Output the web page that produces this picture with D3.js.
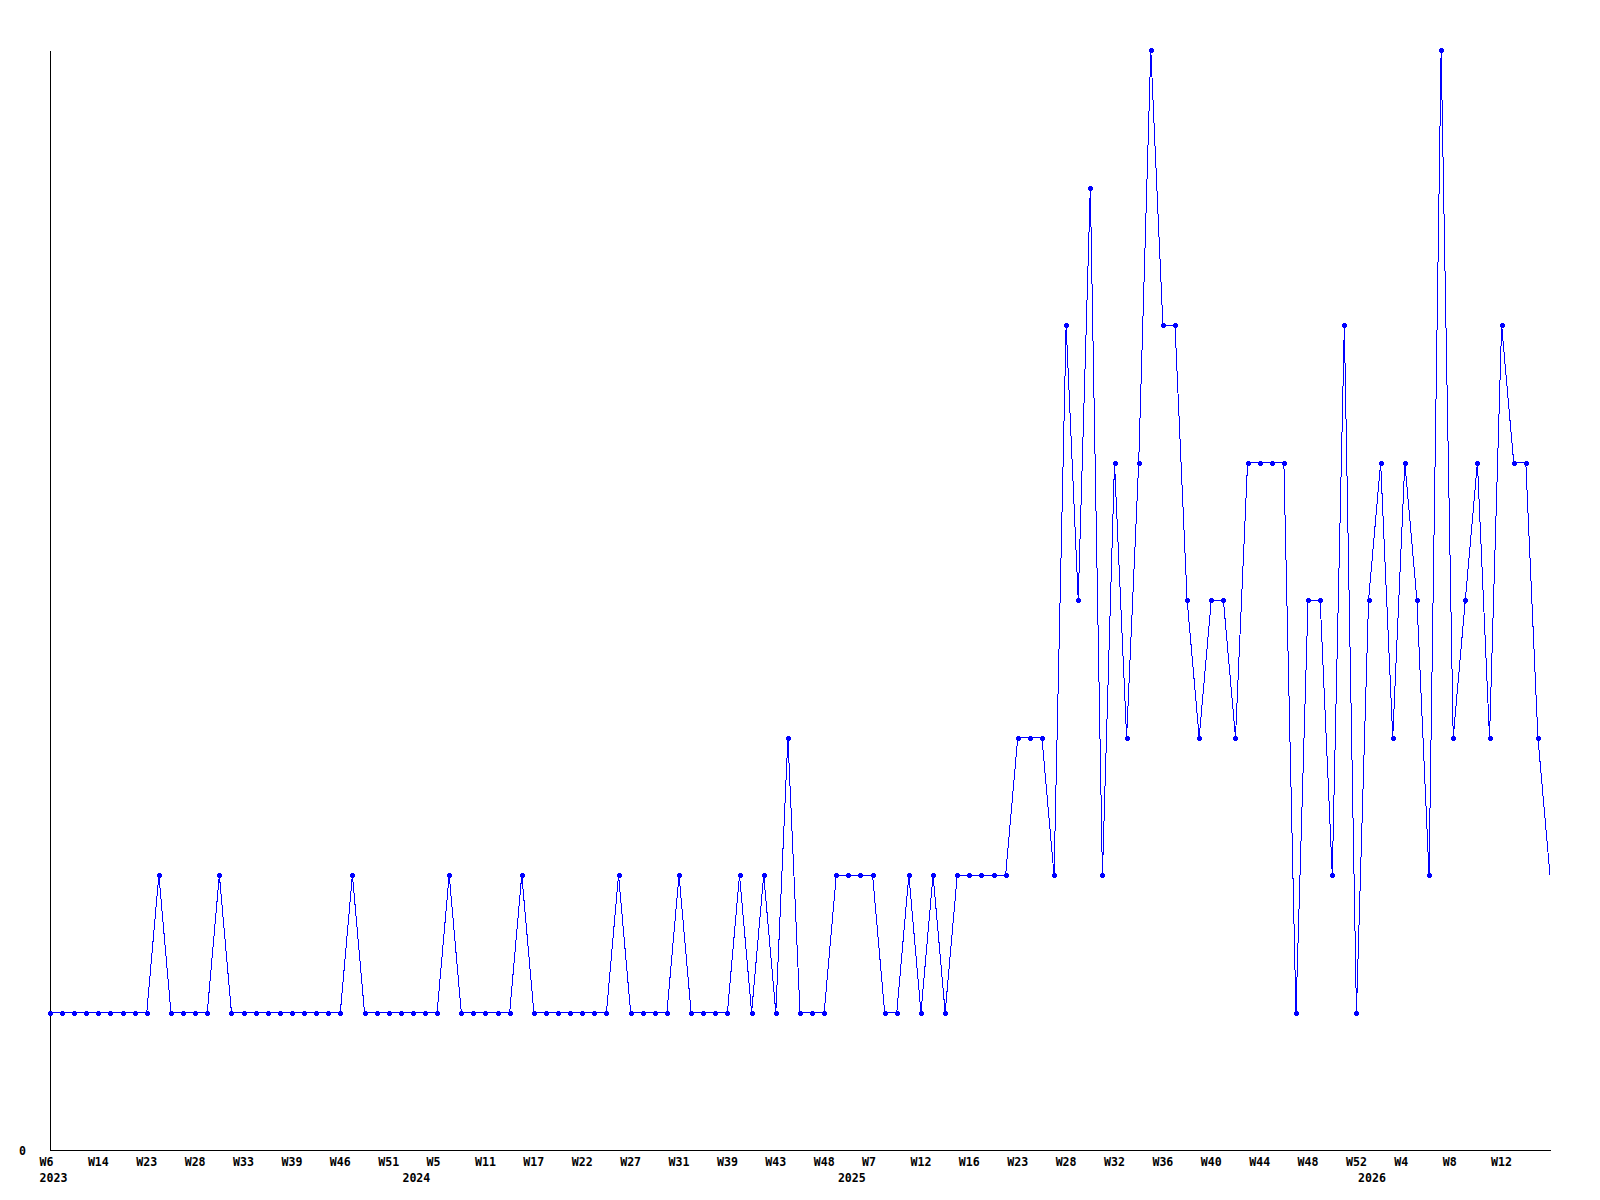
<!DOCTYPE html>
<html>
<head>
<meta charset="utf-8">
<script src="https://cdn.jsdelivr.net/npm/d3@7"></script>
<style>
  html, body { margin: 0; padding: 0; background: #fff; }
  svg text { font-family: "DejaVu Sans Mono", monospace; font-weight: bold; font-size: 11.6px; fill: #000; }
</style>
</head>
<body>
<svg width="1600" height="1200"></svg>
<script>
"use strict";

// weekly counts, one point per week that had data
var values = [
  1, 1, 1, 1, 1, 1, 1, 1, 1, 2,
  1, 1, 1, 1, 2, 1, 1, 1, 1, 1,
  1, 1, 1, 1, 1, 2, 1, 1, 1, 1,
  1, 1, 1, 2, 1, 1, 1, 1, 1, 2,
  1, 1, 1, 1, 1, 1, 1, 2, 1, 1,
  1, 1, 2, 1, 1, 1, 1, 2, 1, 2,
  1, 3, 1, 1, 1, 2, 2, 2, 2, 1,
  1, 2, 1, 2, 1, 2, 2, 2, 2, 2,
  3, 3, 3, 2, 6, 4, 7, 2, 5, 3,
  5, 8, 6, 6, 4, 3, 4, 4, 3, 5,
  5, 5, 5, 1, 4, 4, 2, 6, 1, 4,
  5, 3, 5, 4, 2, 8, 3, 4, 5, 3,
  6, 5, 5, 3, 2
];

// week label shown under every 4th point
var weekLabels = [
  "W6", "W14", "W23", "W28", "W33", "W39", "W46", "W51", "W5", "W11",
  "W17", "W22", "W27", "W31", "W39", "W43", "W48", "W7", "W12", "W16",
  "W23", "W28", "W32", "W36", "W40", "W44", "W48", "W52", "W4", "W8", "W12"
];
var labelEvery = 4;

var years = ["2023", "2024", "2025", "2026"];
var yearStart = [0, 30, 66, 109];   // index of first point of each year

var yTicks = [0];

var svg = d3.select("svg"),
    plotLeft = 50, plotRight = 1550, plotTop = 50, plotBottom = 1150;

var x = d3.scaleLinear().domain([0, values.length - 1]).range([plotLeft, plotRight]);
var y = d3.scaleLinear().domain([0, d3.max(values)]).range([plotBottom, plotTop]);

// y axis
var yAxis = svg.append("g")
    .attr("transform", "translate(" + plotLeft + ",0)")
    .call(d3.axisLeft(y).tickValues(yTicks).tickSize(0).tickPadding(24).tickFormat(d3.format("d")));
yAxis.select(".domain").attr("stroke", "#000").attr("shape-rendering", "crispEdges");
yAxis.selectAll("text").attr("font-family", null).attr("font-size", null).attr("dy", "0.36em");

// week labels
var weekIdx = weekLabels.map(function(d, i) { return i * labelEvery; });
var xAxis = svg.append("g")
    .attr("transform", "translate(0," + plotBottom + ")")
    .call(d3.axisBottom(x).tickValues(weekIdx).tickSize(0)
      .tickFormat(function(d) { return weekLabels[d / labelEvery]; }));
xAxis.select(".domain").attr("stroke", "#000").attr("shape-rendering", "crispEdges");
xAxis.selectAll("text")
    .attr("font-family", null).attr("font-size", null)
    .attr("text-anchor", "start").attr("x", -11).attr("y", 16).attr("dy", null);

// year labels
var yearAxis = svg.append("g")
    .attr("transform", "translate(0," + plotBottom + ")")
    .call(d3.axisBottom(x).tickValues(yearStart).tickSize(0)
      .tickFormat(function(d) { return years[yearStart.indexOf(d)]; }));
yearAxis.select(".domain").remove();
yearAxis.selectAll("text")
    .attr("font-family", null).attr("font-size", null)
    .attr("text-anchor", "start").attr("x", -11).attr("y", 32).attr("dy", null);

// the line
var line = d3.line()
    .x(function(d, i) { return x(i); })
    .y(function(d) { return y(d); });

svg.append("path")
    .datum(values)
    .attr("d", line)
    .attr("fill", "none")
    .attr("stroke", "#0000ff")
    .attr("stroke-width", 1)
    .attr("shape-rendering", "crispEdges");

// small plus markers (the running week has none)
svg.append("g")
  .selectAll("path")
  .data(values.slice(0, -1))
  .enter().append("path")
    .attr("d", "M-2.5,-1.5h5v3h-5z M-1.5,-2.5h3v5h-3z")
    .attr("fill", "#0000ff")
    .attr("shape-rendering", "crispEdges")
    .attr("transform", function(d, i) { return "translate(" + Math.round(x(i)) + "," + Math.round(y(d)) + ")"; });
</script>
</body>
</html>
